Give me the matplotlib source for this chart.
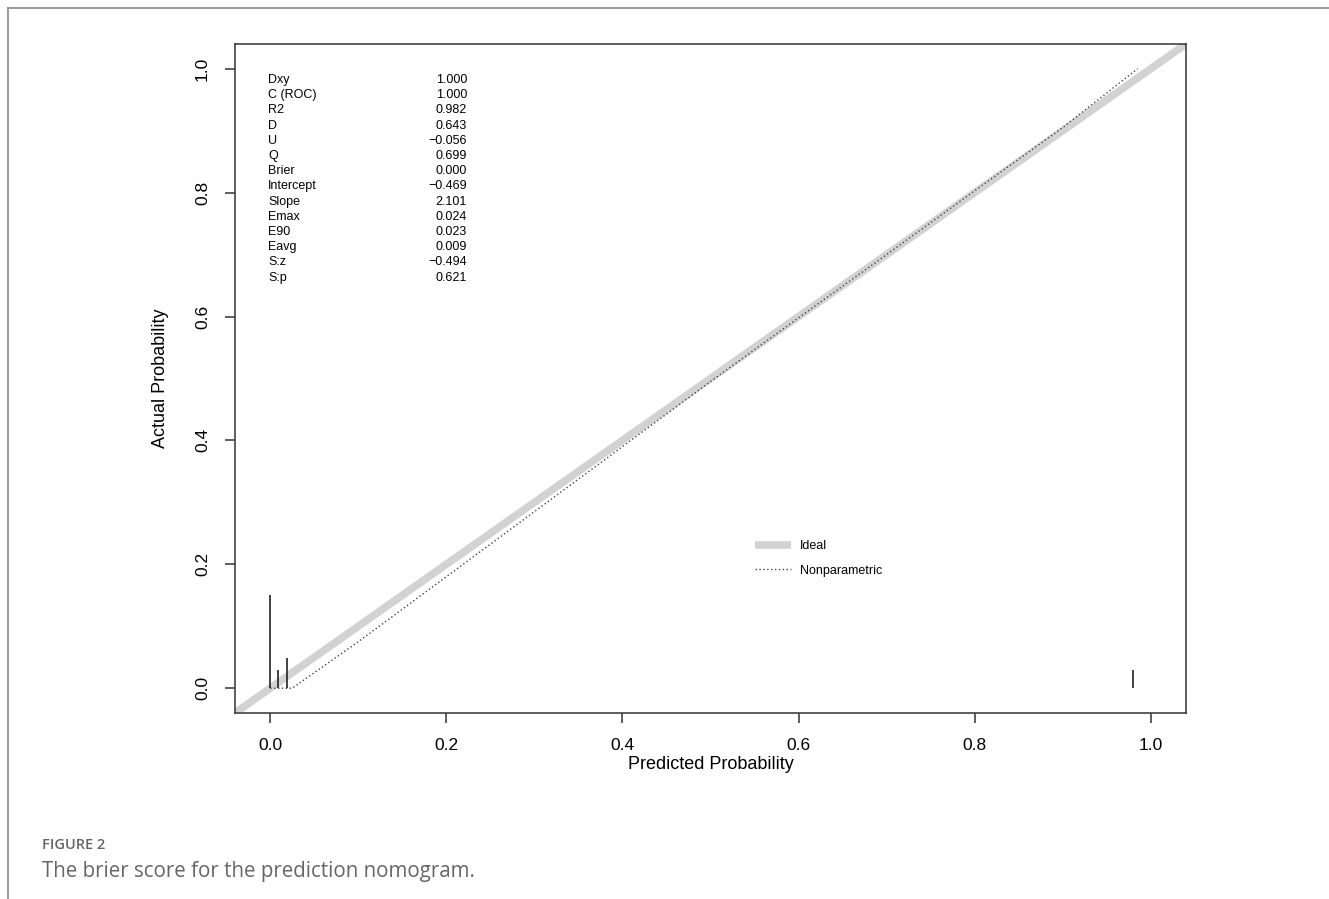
import matplotlib
matplotlib.use("Agg")
import matplotlib.pyplot as plt
from matplotlib.lines import Line2D

plt.rcParams['font.family'] = ['Liberation Sans', 'DejaVu Sans']

# --- DATA ---
stat_names = ['Dxy', 'C (ROC)', 'R2', 'D', 'U', 'Q', 'Brier', 'Intercept',
              'Slope', 'Emax', 'E90', 'Eavg', 'S:z', 'S:p']
stat_values = ['1.000', '1.000', '0.982', '0.643', '\u22120.056', '0.699', '0.000',
               '\u22120.469', '2.101', '0.024', '0.023', '0.009', '\u22120.494', '0.621']

ideal_x = [-0.04, 1.04]
ideal_y = [-0.04, 1.04]

np_x = [0.0, 0.025, 0.1, 0.2, 0.3, 0.4, 0.5, 0.6, 0.7, 0.8, 0.9, 0.985]
np_y = [0.0, 0.0, 0.075, 0.18, 0.285, 0.39, 0.495, 0.598, 0.70, 0.803, 0.905, 1.0]

# rug of predicted probabilities (spikes)
spike_x = [0.0, 0.009, 0.019, 0.98]
spike_h = [0.151, 0.029, 0.048, 0.03]

ticks = [0.0, 0.2, 0.4, 0.6, 0.8, 1.0]

# --- FIGURE ---
fig = plt.figure(figsize=(13.29, 8.99), dpi=100)
ax = fig.add_axes([0.1768, 0.2069, 0.7156, 0.7442])

ax.plot(ideal_x, ideal_y, color='#d2d2d2', lw=5.5, solid_capstyle='butt', zorder=2)
ax.plot(np_x, np_y, color='#444444', lw=1.0, linestyle=(0, (1, 1.8)), zorder=3)
ax.vlines(spike_x, 0, spike_h, color='#222222', lw=1.2, zorder=4)

ax.set_xlim(-0.04, 1.04)
ax.set_ylim(-0.04, 1.04)
ax.set_xticks(ticks)
ax.set_yticks(ticks)
ax.set_xticklabels([f'{t:.1f}' for t in ticks], fontsize=12.5)
ax.set_yticklabels([f'{t:.1f}' for t in ticks], fontsize=12.5, rotation=90, va='center')
ax.tick_params(direction='out', length=7, width=1.1, color='#333333')
ax.tick_params(axis='x', pad=11)
ax.tick_params(axis='y', pad=11)
for s in ax.spines.values():
    s.set_color('#333333')
    s.set_linewidth(1.1)

ax.set_xlabel('Predicted Probability', fontsize=13, labelpad=2)
ax.set_ylabel('Actual Probability', fontsize=13, labelpad=19)

# stats block
x_name = (268 - 235) / 951
x_val = (467 - 235) / 951
y0 = (713 - 80) / 669
dy = 15.2 / 669
for i, (n, v) in enumerate(zip(stat_names, stat_values)):
    ax.text(x_name, y0 - i * dy, n, transform=ax.transAxes, fontsize=9,
            ha='left', va='center')
    ax.text(x_val, y0 - i * dy, v, transform=ax.transAxes, fontsize=9,
            ha='right', va='center')

# legend
handles = [Line2D([], [], color='#d2d2d2', lw=5.5, solid_capstyle='butt'),
           Line2D([], [], color='#444444', lw=1.0, linestyle=(0, (1, 1.8)))]
ax.legend(handles, ['Ideal', 'Nonparametric'], loc='upper left',
          bbox_to_anchor=(0.535, 0.275), frameon=False, fontsize=9,
          handlelength=2.9, labelspacing=1.0, handletextpad=0.7)

# page frame and caption
fig.add_artist(Line2D([8 / 1329, 1], [1 - 8 / 899, 1 - 8 / 899],
                      color='#8a8a8a', lw=1.2, transform=fig.transFigure))
fig.add_artist(Line2D([8 / 1329, 8 / 1329], [0, 1 - 8 / 899],
                      color='#8a8a8a', lw=1.2, transform=fig.transFigure))
fig.text(42 / 1329, 1 - 845 / 899, 'FIGURE 2', fontsize=10.5, color='#666666',
         family=['Open Sans', 'DejaVu Sans'], va='center', fontweight='semibold')
fig.text(42 / 1329, 1 - 871 / 899, 'The brier score for the prediction nomogram.',
         fontsize=14.8, color='#666666', family=['Open Sans', 'DejaVu Sans'],
         va='center')

fig.savefig('out.png', dpi=100)
